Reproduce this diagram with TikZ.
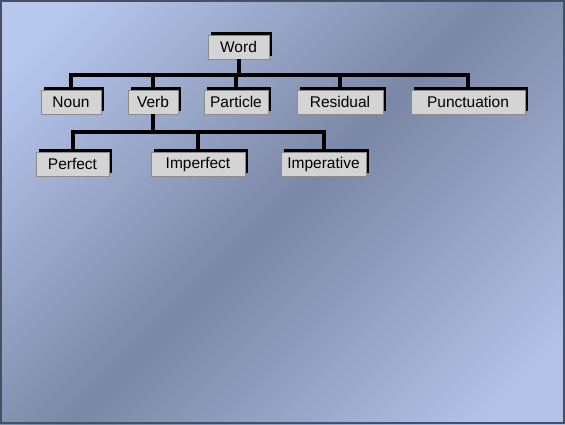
\documentclass[tikz,border=0pt]{standalone}
\usepackage{fontspec}
\setmainfont{Liberation Sans}
\usetikzlibrary{shadows}
\definecolor{mbox}{rgb}{0.83, 0.83, 0.83}
\definecolor{medge}{rgb}{0.55, 0.55, 0.55}
\definecolor{mframe}{rgb}{0.27, 0.31, 0.40}
\pgfdeclarehorizontalshading{slidebg}{100bp}{rgb(0bp)=(0.72,0.78,0.93); rgb(20bp)=(0.72,0.78,0.93); rgb(50bp)=(0.48,0.53,0.65); rgb(80bp)=(0.71,0.76,0.91); rgb(100bp)=(0.71,0.76,0.91)}
\tikzset{box/.style = {draw=medge, fill=mbox, line width=0.6, minimum height=24, inner sep=0,
                       font=\fontsize{15.5}{18}\selectfont,
                       general shadow={fill=black, shadow xshift=3pt, shadow yshift=3pt}}}
\tikzset{link/.style = {line width=4}}

\begin{document}
\begin{tikzpicture}[x=1pt, y=-1pt]
    \shade [shading=slidebg, shading angle=-45] (0, 0) rectangle (565, 424);
    \draw [mframe, line width=1.5] (1, 1) rectangle (564, 423);

    \node (word) at (238.5, 47) [box, minimum width=61] {Word};

    \node (noun) at (71, 102) [box, minimum width=60] {Noun};
    \node (verb) at (153, 102) [box, minimum width=50] {Verb};
    \node (particle) at (236, 102) [box, minimum width=64] {Particle};
    \node (residual) at (340, 102) [box, minimum width=86] {Residual};
    \node (punct) at (468, 102) [box, minimum width=114] {Punctuation};

    \node (perfect) at (72.5, 164) [box, minimum width=73] {Perfect};
    \node (imperfect) at (198, 164) [box, minimum width=94] {Imperfect};
    \node (imperative) at (323.5, 164) [box, minimum width=85] {Imperative};

    \foreach \c in {noun, verb, particle, residual, punct}
      \draw [link] (word.south) -- ++(0, 16) -| (\c.north);

    \foreach \c in {perfect, imperfect, imperative}
      \draw [link] (verb.south) -- ++(0, 18) -| (\c.north);
  \end{tikzpicture}
\end{document}
